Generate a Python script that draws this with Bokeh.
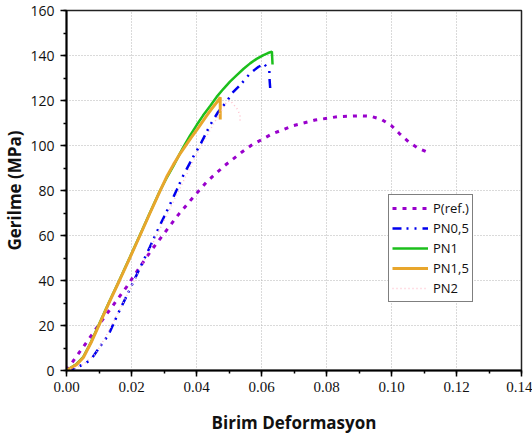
from bokeh.plotting import figure
from bokeh.models import Range1d, SingleIntervalTicker, PrintfTickFormatter, Legend, LegendItem
from bokeh.embed import file_html
from bokeh.resources import INLINE

# ---- data ----
pref_x = [0.0, 0.0023, 0.0064, 0.0103, 0.0144, 0.0185, 0.0223, 0.0262, 0.0303, 0.0345, 0.0390, 0.0432,
          0.0486, 0.0541, 0.0570, 0.0632, 0.0697, 0.0765, 0.0834, 0.0904, 0.0937, 0.0970, 0.1000,
          0.1025, 0.1052, 0.1081, 0.1114]
pref_y = [0.0, 4.7, 13.0, 21.0, 29.1, 37.2, 45.4, 53.6, 61.4, 69.4, 77.0, 83.9,
          91.0, 97.2, 100.2, 105.1, 108.8, 111.3, 112.8, 113.2, 113.0, 111.5, 108.8,
          105.2, 101.7, 98.9, 96.8]

pn05_x = [0.0, 0.0011, 0.0057, 0.0078, 0.0103, 0.0129, 0.0159, 0.0190, 0.0206, 0.0257, 0.0288, 0.0308,
          0.0339, 0.0360, 0.0390, 0.0411, 0.0442, 0.0467, 0.0493, 0.0509, 0.0539, 0.0565, 0.0591,
          0.0608, 0.0624, 0.0625, 0.0627]
pn05_y = [0.0, 0.2, 3.0, 5.4, 10.6, 15.8, 25.4, 34.6, 39.5, 55.0, 64.7, 70.6,
          80.2, 86.9, 95.0, 100.2, 109.1, 115.0, 119.5, 123.2, 127.6, 132.1, 135.0,
          136.2, 133.6, 129.0, 125.0]

pn1_x = [0.0, 0.0031, 0.0052, 0.0075, 0.0098, 0.0130, 0.0163, 0.0195, 0.0226, 0.0257, 0.0288, 0.0310,
         0.0329, 0.0345, 0.0360, 0.0380, 0.0401, 0.0420, 0.0442, 0.0462, 0.0483, 0.0503, 0.0524,
         0.0545, 0.0565, 0.0585, 0.0606, 0.0620, 0.0632, 0.0634]
pn1_y = [0.0, 2.9, 6.1, 12.5, 19.9, 30.1, 40.2, 50.3, 60.2, 70.2, 80.0, 86.1,
         90.9, 95.4, 99.4, 104.4, 109.2, 113.3, 117.6, 121.6, 125.2, 128.4, 131.3,
         134.1, 136.5, 138.5, 140.2, 141.1, 141.7, 136.0]

pn15_x = [0.0, 0.0031, 0.0052, 0.0075, 0.0098, 0.0130, 0.0163, 0.0195, 0.0226, 0.0257, 0.0288, 0.0310,
          0.0329, 0.0347, 0.0365, 0.0383, 0.0401, 0.0417, 0.0432, 0.0445, 0.0457, 0.0466, 0.0473, 0.0473]
pn15_y = [0.0, 2.6, 5.8, 12.2, 19.5, 29.8, 40.0, 50.1, 60.0, 70.0, 79.8, 86.6,
          91.5, 95.8, 99.6, 103.4, 106.9, 110.3, 113.4, 116.0, 118.2, 119.9, 121.4, 111.6]

pn2_x = [0.0, 0.0050, 0.0090, 0.0118, 0.0160, 0.0200, 0.0260, 0.0300, 0.0349, 0.0400, 0.0450, 0.0493,
         0.0505, 0.0524, 0.0534, 0.0534]
pn2_y = [0.0, 2.5, 7.5, 14.4, 26.0, 37.5, 55.0, 66.5, 81.0, 96.0, 109.0, 119.5,
         119.8, 116.5, 113.6, 110.6]

x_label = "Birim Deformasyon"
y_label = "Gerilme (MPa)"
names = ["P(ref.)", "PN0,5", "PN1", "PN1,5", "PN2"]

p = figure(width=532, height=438, output_backend="svg", toolbar_location=None,
           x_range=Range1d(0, 0.14), y_range=Range1d(0, 160),
           min_border_left=66, min_border_right=11, min_border_top=10, min_border_bottom=68)
p.background_fill_color = "white"
p.border_fill_color = "white"
p.outline_line_color = "#222222"
p.outline_line_width = 1.5

p.xaxis.ticker = SingleIntervalTicker(interval=0.02, num_minor_ticks=2)
p.yaxis.ticker = SingleIntervalTicker(interval=20, num_minor_ticks=2)
p.xaxis.formatter = PrintfTickFormatter(format="%.2f")

for ax in (p.xaxis[0], p.yaxis[0]):
    ax.axis_line_width = 2
    ax.axis_line_color = "black"
    ax.major_tick_line_color = "black"
    ax.major_tick_line_width = 1.5
    ax.minor_tick_line_color = "black"
    ax.minor_tick_line_width = 1.5
    ax.major_tick_in = 0
    ax.major_tick_out = 6
    ax.minor_tick_in = 0
    ax.minor_tick_out = 3
    ax.major_label_text_color = "#111111"
    ax.axis_label_text_font_style = "bold"
    ax.axis_label_text_color = "#111111"
    ax.axis_label_text_font = "Open Sans"
    ax.axis_label_text_font_size = "17px"

p.xaxis.major_label_text_font = "Liberation Serif"
p.xaxis.major_label_text_font_size = "15px"
p.xaxis.major_label_standoff = 5
p.yaxis.major_label_text_font = "Open Sans"
p.yaxis.major_label_text_font_size = "14px"
p.yaxis.major_label_standoff = 6
p.xaxis.axis_label = x_label
p.yaxis.axis_label = y_label
p.xaxis.axis_label_standoff = 16
p.yaxis.axis_label_standoff = 1

p.xgrid.grid_line_color = "#b5b5b5"
p.ygrid.grid_line_color = "#b5b5b5"
p.xgrid.grid_line_dash = "1 2"
p.ygrid.grid_line_dash = "1 2"
p.xgrid.grid_line_width = 1
p.ygrid.grid_line_width = 1

r0 = p.line(pref_x, pref_y, line_color="#9900cc", line_width=3, line_dash="4 6")
r1 = p.line(pn05_x, pn05_y, line_color="#0000ee", line_width=2.5, line_dash="9 5 2 6 2 6")
r2 = p.line(pn1_x, pn1_y, line_color="#1cbf1c", line_width=2.5)
r3 = p.line(pn15_x, pn15_y, line_color="#e8a62c", line_width=3)
r4 = p.line(pn2_x, pn2_y, line_color="#ffc0cc", line_width=1.5, line_dash="1 3")

legend = Legend(items=[LegendItem(label=n, renderers=[r]) for n, r in zip(names, [r0, r1, r2, r3, r4])],
                location=(322, 68))
legend.border_line_color = "black"
legend.border_line_width = 1
legend.background_fill_color = "white"
legend.background_fill_alpha = 1
legend.label_text_font = "Open Sans"
legend.label_text_font_size = "13px"
legend.label_text_color = "#111111"
legend.glyph_width = 36
legend.glyph_height = 20
legend.label_height = 20
legend.label_standoff = 5
legend.spacing = 0
legend.padding = 3
legend.margin = 0
p.add_layout(legend, "center")

open("out.html", "w").write(file_html(p, INLINE))
